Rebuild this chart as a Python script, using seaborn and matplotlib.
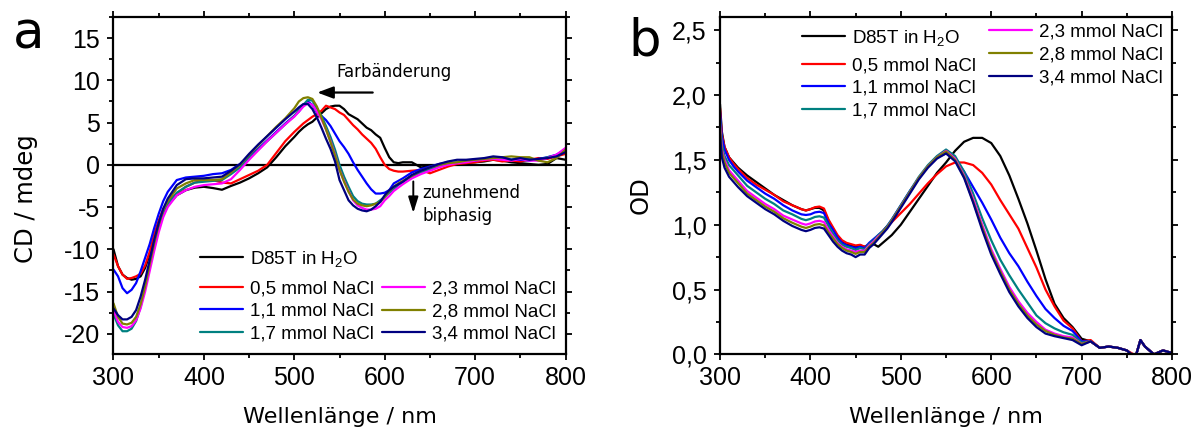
import numpy as np
import pandas as pd
import matplotlib
matplotlib.use("Agg")
import matplotlib.pyplot as plt
import seaborn as sns
from matplotlib.ticker import MultipleLocator, FuncFormatter

# ---------------------------------------------------------------- data
samples = ["D85T in H$_2$O", "0,5 mmol NaCl", "1,1 mmol NaCl", "1,7 mmol NaCl",
           "2,3 mmol NaCl", "2,8 mmol NaCl", "3,4 mmol NaCl"]
colors = ["#000000", "#ff0000", "#0000ff", "#008080", "#ff00ff", "#808000", "#000080"]

# CD spectra (mdeg)
wl_cd = [300, 305, 310, 315, 320, 325, 330, 335, 340, 345, 350, 355, 360,
         370, 380, 390, 400, 410, 420, 430, 440, 450, 460, 470, 480, 490,
         500, 505, 510, 515, 520, 525, 530, 535, 540, 545, 550, 555, 560, 565,
         570, 575, 580, 585, 590, 595, 600, 605, 610, 615, 620,
         630, 640, 650, 660, 670, 680, 690, 700, 710, 720, 730, 740, 750, 760,
         770, 780, 790, 800]

cd_h2o = [-10.0, -12.0, -13.0, -13.4, -13.6, -13.5, -13.2, -12.2, -10.6, -8.8, -7.2, -5.9, -4.8,
          -3.6, -3.0, -2.7, -2.6, -2.75, -2.95, -2.5, -2.1, -1.6, -1.0, -0.3, 0.9, 2.2,
          3.3, 3.9, 4.4, 4.8, 5.1, 5.6, 6.1, 6.6, 6.9, 7.0, 7.0, 6.6, 6.0, 5.7,
          5.4, 4.9, 4.4, 4.1, 3.6, 3.2, 2.0, 0.9, 0.3, 0.2, 0.3,
          0.3, -0.3, -0.2, 0.0, 0.1, 0.1, 0.2, 0.3, 0.4, 0.6, 0.5, 0.3, 0.2, 0.1,
          0.0, 0.1, 0.8, 0.6]
cd_05 = [-10.6, -12.0, -13.0, -13.5, -13.4, -13.2, -12.9, -11.9, -10.3, -8.2, -6.6, -5.2, -4.4,
         -3.4, -2.6, -2.1, -1.9, -1.8, -2.1, -2.2, -1.7, -1.2, -0.7, 0.0, 1.4, 2.8,
         3.9, 4.4, 4.9, 5.3, 5.7, 6.0, 6.4, 7.0, 6.8, 6.6, 6.2, 5.9, 5.3, 4.7,
         4.2, 3.6, 3.1, 2.6, 1.9, 0.9, 0.0, -0.5, -0.7, -0.8, -0.8,
         -0.7, -0.6, -1.0, -0.6, -0.2, 0.1, 0.2, 0.3, 0.5, 0.6, 0.4, 0.5, 0.4, 0.6,
         0.8, 0.7, 1.0, 1.3]
cd_11 = [-12.4, -13.2, -14.6, -15.2, -14.8, -14.0, -12.6, -11.0, -9.4, -7.5, -5.8, -4.3, -3.2,
         -1.8, -1.5, -1.4, -1.3, -1.1, -1.0, -0.6, 0.1, 1.0, 1.9, 2.9, 3.9, 4.9,
         5.8, 6.3, 7.0, 7.5, 7.1, 6.2, 5.8, 5.3, 4.6, 3.7, 2.8, 2.1, 1.3, 0.3,
         -0.6, -1.4, -2.2, -2.9, -3.4, -3.4, -3.3, -3.0, -2.2, -1.9, -1.6,
         -0.9, -0.5, -0.2, 0.1, 0.3, 0.2, 0.4, 0.5, 0.7, 0.8, 0.7, 0.6, 0.6, 0.5,
         0.7, 0.9, 1.2, 1.8]
cd_17 = [-17.7, -19.0, -19.7, -19.7, -19.4, -18.5, -16.8, -14.5, -12.0, -9.6, -7.5, -5.9, -4.7,
         -3.3, -2.6, -2.1, -2.0, -1.9, -1.8, -1.1, -0.3, 0.8, 1.8, 2.8, 3.8, 4.8,
         5.8, 6.5, 7.1, 7.7, 7.6, 6.7, 5.8, 4.6, 3.3, 1.8, 0.0, -1.4, -2.6, -3.7,
         -4.3, -4.6, -4.7, -4.7, -4.6, -4.2, -3.8, -3.3, -2.9, -2.4, -2.0,
         -1.4, -0.9, -0.5, -0.2, 0.1, 0.3, 0.5, 0.6, 0.7, 0.8, 0.7, 0.6, 0.8, 0.7,
         0.6, 0.9, 1.1, 1.9]
cd_23 = [-17.2, -18.6, -19.2, -19.3, -19.1, -18.4, -17.0, -15.0, -12.6, -10.2, -8.0, -6.2, -5.0,
         -3.6, -3.0, -2.6, -2.4, -2.3, -2.2, -1.7, -0.6, 0.6, 1.7, 2.8, 3.8, 4.8,
         5.7, 6.3, 6.9, 7.3, 7.1, 6.3, 5.4, 4.2, 2.8, 1.2, -0.6, -1.9, -3.1, -4.2,
         -4.8, -5.1, -5.3, -5.3, -5.2, -4.9, -4.2, -3.7, -3.1, -2.7, -2.3,
         -1.6, -1.1, -0.7, -0.3, 0.0, 0.2, 0.3, 0.5, 0.6, 0.7, 0.6, 0.5, 0.7, 0.5,
         0.5, 0.8, 1.2, 2.0]
cd_28 = [-16.4, -18.0, -18.8, -18.9, -18.7, -18.0, -16.5, -14.4, -11.8, -9.3, -7.1, -5.4, -4.3,
         -2.8, -2.2, -1.8, -1.8, -1.8, -1.7, -0.9, 0.0, 1.2, 2.3, 3.4, 4.5, 5.5,
         6.7, 7.5, 7.9, 8.0, 7.8, 6.9, 5.6, 4.2, 2.7, 1.1, -0.6, -2.0, -3.2, -4.1,
         -4.6, -4.8, -4.9, -4.8, -4.6, -4.4, -3.8, -3.1, -2.6, -2.2, -1.9,
         -1.3, -0.7, -0.3, 0.0, 0.2, 0.3, 0.5, 0.6, 0.7, 0.8, 0.9, 1.0, 0.9, 0.9,
         0.5, 0.3, 0.8, 1.8]
cd_34 = [-17.0, -17.8, -18.3, -18.3, -18.0, -17.2, -15.6, -13.6, -11.3, -8.9, -6.9, -5.2, -4.0,
         -2.4, -1.7, -1.6, -1.6, -1.5, -1.4, -0.7, 0.1, 1.3, 2.4, 3.4, 4.4, 5.4,
         6.3, 6.8, 7.2, 7.2, 6.6, 5.6, 4.4, 3.1, 1.9, 0.4, -1.8, -3.0, -4.2, -4.8,
         -5.2, -5.4, -5.5, -5.3, -4.9, -4.4, -3.6, -3.0, -2.6, -2.3, -2.0,
         -1.2, -0.7, -0.3, 0.1, 0.4, 0.6, 0.6, 0.7, 0.8, 1.0, 0.9, 0.6, 0.8, 0.6,
         0.7, 0.8, 1.0, 1.5]

# absorption spectra (OD)
wl_od = [300, 302, 305, 310, 315, 320, 330, 340, 350, 360, 370, 380, 390,
         395, 400, 405, 410, 415, 420, 425, 430, 435, 440, 445, 450, 455, 460,
         465, 470, 475, 480, 485, 490,
         500, 510, 520, 530, 540, 550, 560, 570, 580, 590, 600, 610, 620, 630,
         640, 650, 660, 670, 680, 690, 700,
         710, 720, 730, 740, 750, 755, 760, 765, 770, 780, 790, 800]

od_h2o = [1.93, 1.72, 1.60, 1.52, 1.48, 1.44, 1.38, 1.33, 1.28, 1.23, 1.19, 1.15, 1.12,
          1.11, 1.12, 1.13, 1.13, 1.11, 1.03, 0.97, 0.91, 0.87, 0.85, 0.84, 0.83, 0.84, 0.83,
          0.84, 0.85, 0.83, 0.86, 0.89, 0.92,
          1.00, 1.10, 1.20, 1.30, 1.40, 1.48, 1.57, 1.64, 1.67, 1.67, 1.63, 1.53, 1.38, 1.20,
          1.01, 0.80, 0.58, 0.39, 0.28, 0.21, 0.12,
          0.10, 0.05, 0.06, 0.05, 0.03, 0.00, -0.01, 0.11, 0.06, 0.00, 0.03, 0.01]
od_05 = [1.90, 1.70, 1.60, 1.52, 1.47, 1.43, 1.36, 1.31, 1.27, 1.23, 1.18, 1.15, 1.12,
         1.11, 1.12, 1.135, 1.14, 1.125, 1.04, 0.98, 0.92, 0.88, 0.86, 0.85, 0.84, 0.845, 0.83,
         0.85, 0.87, 0.91, 0.95, 0.99, 1.02,
         1.09, 1.16, 1.24, 1.32, 1.39, 1.45, 1.48, 1.48, 1.46, 1.40, 1.31, 1.19, 1.08, 0.97,
         0.82, 0.67, 0.50, 0.37, 0.26, 0.20, 0.10,
         0.11, 0.05, 0.06, 0.05, 0.03, 0.01, -0.01, 0.11, 0.06, 0.00, 0.03, 0.01]
od_11 = [1.87, 1.68, 1.58, 1.50, 1.45, 1.41, 1.34, 1.29, 1.24, 1.20, 1.15, 1.11, 1.08,
         1.075, 1.08, 1.095, 1.10, 1.09, 1.01, 0.96, 0.90, 0.86, 0.84, 0.83, 0.82, 0.83, 0.82,
         0.86, 0.89, 0.92, 0.95, 0.99, 1.04,
         1.15, 1.26, 1.36, 1.45, 1.52, 1.55, 1.51, 1.41, 1.29, 1.17, 1.04, 0.90, 0.78, 0.68,
         0.56, 0.45, 0.35, 0.28, 0.22, 0.18, 0.10,
         0.10, 0.05, 0.06, 0.05, 0.03, 0.00, -0.01, 0.11, 0.06, 0.00, 0.03, 0.01]
od_17 = [1.82, 1.62, 1.53, 1.46, 1.42, 1.38, 1.30, 1.25, 1.20, 1.16, 1.11, 1.08, 1.045,
         1.035, 1.045, 1.06, 1.065, 1.055, 0.99, 0.93, 0.88, 0.845, 0.83, 0.82, 0.805, 0.82, 0.81,
         0.85, 0.88, 0.92, 0.95, 0.99, 1.04,
         1.15, 1.26, 1.37, 1.46, 1.53, 1.58, 1.53, 1.41, 1.24, 1.05, 0.88, 0.73, 0.61, 0.50,
         0.40, 0.30, 0.24, 0.20, 0.17, 0.15, 0.09,
         0.10, 0.05, 0.06, 0.05, 0.03, 0.00, -0.01, 0.11, 0.06, 0.00, 0.03, 0.01]
od_23 = [1.78, 1.58, 1.50, 1.42, 1.38, 1.34, 1.26, 1.21, 1.16, 1.12, 1.07, 1.04, 1.01,
         1.00, 1.01, 1.025, 1.03, 1.02, 0.96, 0.91, 0.86, 0.83, 0.81, 0.80, 0.79, 0.80, 0.80,
         0.84, 0.87, 0.91, 0.94, 0.98, 1.03,
         1.14, 1.25, 1.36, 1.45, 1.52, 1.57, 1.51, 1.38, 1.20, 1.00, 0.81, 0.66, 0.52, 0.41,
         0.32, 0.25, 0.19, 0.16, 0.14, 0.13, 0.08,
         0.10, 0.05, 0.06, 0.05, 0.03, 0.00, -0.01, 0.11, 0.06, 0.00, 0.03, 0.01]
od_28 = [1.75, 1.56, 1.48, 1.40, 1.36, 1.32, 1.24, 1.19, 1.14, 1.10, 1.05, 1.015, 0.985,
         0.975, 0.985, 1.00, 1.005, 0.995, 0.94, 0.895, 0.85, 0.82, 0.80, 0.79, 0.775, 0.79, 0.79,
         0.83, 0.86, 0.90, 0.94, 0.98, 1.03,
         1.14, 1.25, 1.36, 1.45, 1.52, 1.565, 1.50, 1.37, 1.18, 0.98, 0.79, 0.64, 0.50, 0.39,
         0.30, 0.23, 0.18, 0.15, 0.13, 0.12, 0.08,
         0.10, 0.05, 0.06, 0.05, 0.03, 0.00, -0.01, 0.11, 0.06, 0.00, 0.03, 0.01]
od_34 = [1.70, 1.52, 1.44, 1.37, 1.33, 1.29, 1.22, 1.17, 1.12, 1.08, 1.03, 0.99, 0.96,
         0.95, 0.96, 0.975, 0.98, 0.97, 0.92, 0.87, 0.83, 0.80, 0.78, 0.77, 0.75, 0.77, 0.77,
         0.82, 0.85, 0.89, 0.93, 0.97, 1.02,
         1.13, 1.24, 1.35, 1.44, 1.51, 1.55, 1.49, 1.36, 1.17, 0.96, 0.77, 0.62, 0.48, 0.37,
         0.28, 0.21, 0.16, 0.14, 0.125, 0.11, 0.07,
         0.10, 0.05, 0.06, 0.05, 0.03, 0.00, -0.01, 0.11, 0.06, 0.00, 0.03, 0.01]

cd_series = [cd_h2o, cd_05, cd_11, cd_17, cd_23, cd_28, cd_34]
od_series = [od_h2o, od_05, od_11, od_17, od_23, od_28, od_34]


def long_table(wl, series):
    frames = [pd.DataFrame({"wl": wl, "val": vals, "sample": name})
              for name, vals in zip(samples, series)]
    return pd.concat(frames, ignore_index=True)


df_cd = long_table(wl_cd, cd_series)
df_od = long_table(wl_od, od_series)

# ---------------------------------------------------------------- style
sns.set_theme(style="ticks")
plt.rcParams.update({
    "font.family": ["Liberation Sans", "DejaVu Sans"],
    "mathtext.fontset": "custom",
    "mathtext.rm": "Liberation Sans",
    "mathtext.it": "Liberation Sans",
    "mathtext.default": "regular",
    "text.color": "black",
    "axes.labelcolor": "black",
    "axes.linewidth": 1.6,
    "axes.edgecolor": "black",
    "xtick.color": "black",
    "ytick.color": "black",
    "xtick.labelcolor": "black",
    "ytick.labelcolor": "black",
    "xtick.direction": "out",
    "ytick.direction": "out",
    "xtick.major.size": 4.5,
    "ytick.major.size": 4.5,
    "xtick.minor.size": 3.0,
    "ytick.minor.size": 3.0,
    "xtick.major.width": 1.3,
    "ytick.major.width": 1.3,
    "xtick.minor.width": 1.3,
    "ytick.minor.width": 1.3,
    "xtick.labelsize": 18,
    "ytick.labelsize": 18,
    "axes.unicode_minus": False,
})

palette = dict(zip(samples, colors))
xlabel_font = dict(family="DejaVu Sans", size=16, color="black")
ylabel_font = dict(family="DejaVu Sans", size=17.5, color="black")
note_font = dict(family="DejaVu Sans", size=12, color="black")
legend_prop = dict(family="Liberation Sans", size=13.5)

fig = plt.figure(figsize=(12.01, 4.30), dpi=100)
ax_a = fig.add_axes([0.0945, 0.1767, 0.3764, 0.7837])
ax_b = fig.add_axes([0.5995, 0.1760, 0.3764, 0.7837])


def draw(ax, df):
    sns.lineplot(data=df, x="wl", y="val", hue="sample", hue_order=samples,
                 palette=palette, estimator=None, sort=False, lw=1.6,
                 legend=False, ax=ax)
    return list(ax.get_lines())


def style_axes(ax):
    ax.set_xlim(300, 800)
    ax.xaxis.set_major_locator(MultipleLocator(100))
    ax.xaxis.set_minor_locator(MultipleLocator(50))
    ax.tick_params(which="both", top=True, right=True, labeltop=False, labelright=False)
    ax.tick_params(axis="x", which="both", pad=4)
    ax.tick_params(axis="y", which="both", pad=5)
    ax.set_xlabel("Wellenlänge / nm", fontdict=xlabel_font)
    ax.xaxis.set_label_coords(0.5, -0.186)
    ax.xaxis.label.set_va("center")


def add_legend(ax, handles, idx, anchor, spacing):
    leg = ax.legend([handles[i] for i in idx], [samples[i] for i in idx],
                    loc="center left", bbox_to_anchor=anchor, frameon=False,
                    borderpad=0, borderaxespad=0, handlelength=2.3,
                    handletextpad=0.35, labelspacing=spacing, prop=legend_prop)
    ax.add_artist(leg)
    ax.legend_ = None


# ---------------------------------------------------------------- panel a: CD
lines_a = draw(ax_a, df_cd)
style_axes(ax_a)
ax_a.set_ylim(-22.4, 17.5)
ax_a.yaxis.set_major_locator(MultipleLocator(5))
ax_a.yaxis.set_minor_locator(MultipleLocator(2.5))
ax_a.yaxis.set_major_formatter(FuncFormatter(lambda v, p: f"{v:.0f}"))
ax_a.set_ylabel("CD / mdeg", fontdict=ylabel_font)
ax_a.yaxis.set_label_coords(-0.194, 0.46)
ax_a.yaxis.label.set_va("center")

add_legend(ax_a, lines_a, [0], (0.191, 0.283), 0.28)
add_legend(ax_a, lines_a, [1, 2, 3], (0.191, 0.1267), 0.28)
add_legend(ax_a, lines_a, [4, 5, 6], (0.594, 0.1255), 0.28)

ax_a.axhline(0, color="black", lw=1.6, zorder=1)

ax_a.annotate("", xy=(525.4, 8.56), xytext=(586.7, 8.56),
              arrowprops=dict(arrowstyle="-|>,head_length=0.8,head_width=0.3",
                              color="black", lw=1.6, shrinkA=0, shrinkB=0))
ax_a.text(546, 11.0, "Farbänderung", ha="left", va="center", **note_font)
ax_a.annotate("", xy=(631.6, -5.7), xytext=(631.6, -1.97),
              arrowprops=dict(arrowstyle="-|>,head_length=0.8,head_width=0.25",
                              color="black", lw=1.4, shrinkA=0, shrinkB=0))
ax_a.text(642, -4.75, "zunehmend\nbiphasig", ha="left", va="center",
          linespacing=1.35, **note_font)

# ---------------------------------------------------------------- panel b: OD
lines_b = draw(ax_b, df_od)
style_axes(ax_b)
ax_b.set_ylim(0, 2.6)
ax_b.yaxis.set_major_locator(MultipleLocator(0.5))
ax_b.yaxis.set_minor_locator(MultipleLocator(0.25))
ax_b.yaxis.set_major_formatter(FuncFormatter(lambda v, p: f"{v:.1f}".replace(".", ",")))
ax_b.set_ylabel("OD", fontdict=ylabel_font)
ax_b.yaxis.set_label_coords(-0.175, 0.473)
ax_b.yaxis.label.set_va("center")

add_legend(ax_b, lines_b, [0], (0.181, 0.940), 0.3)
add_legend(ax_b, lines_b, [1, 2, 3], (0.181, 0.789), 0.3)
add_legend(ax_b, lines_b, [4, 5, 6], (0.595, 0.888), 0.3)

# panel letters
fig.text(0.011, 0.888, "a", family="DejaVu Sans", fontsize=37, va="baseline", color="black")
fig.text(0.523, 0.872, "b", family="DejaVu Sans", fontsize=37, va="baseline", color="black")

fig.savefig("out.png", dpi=100)
